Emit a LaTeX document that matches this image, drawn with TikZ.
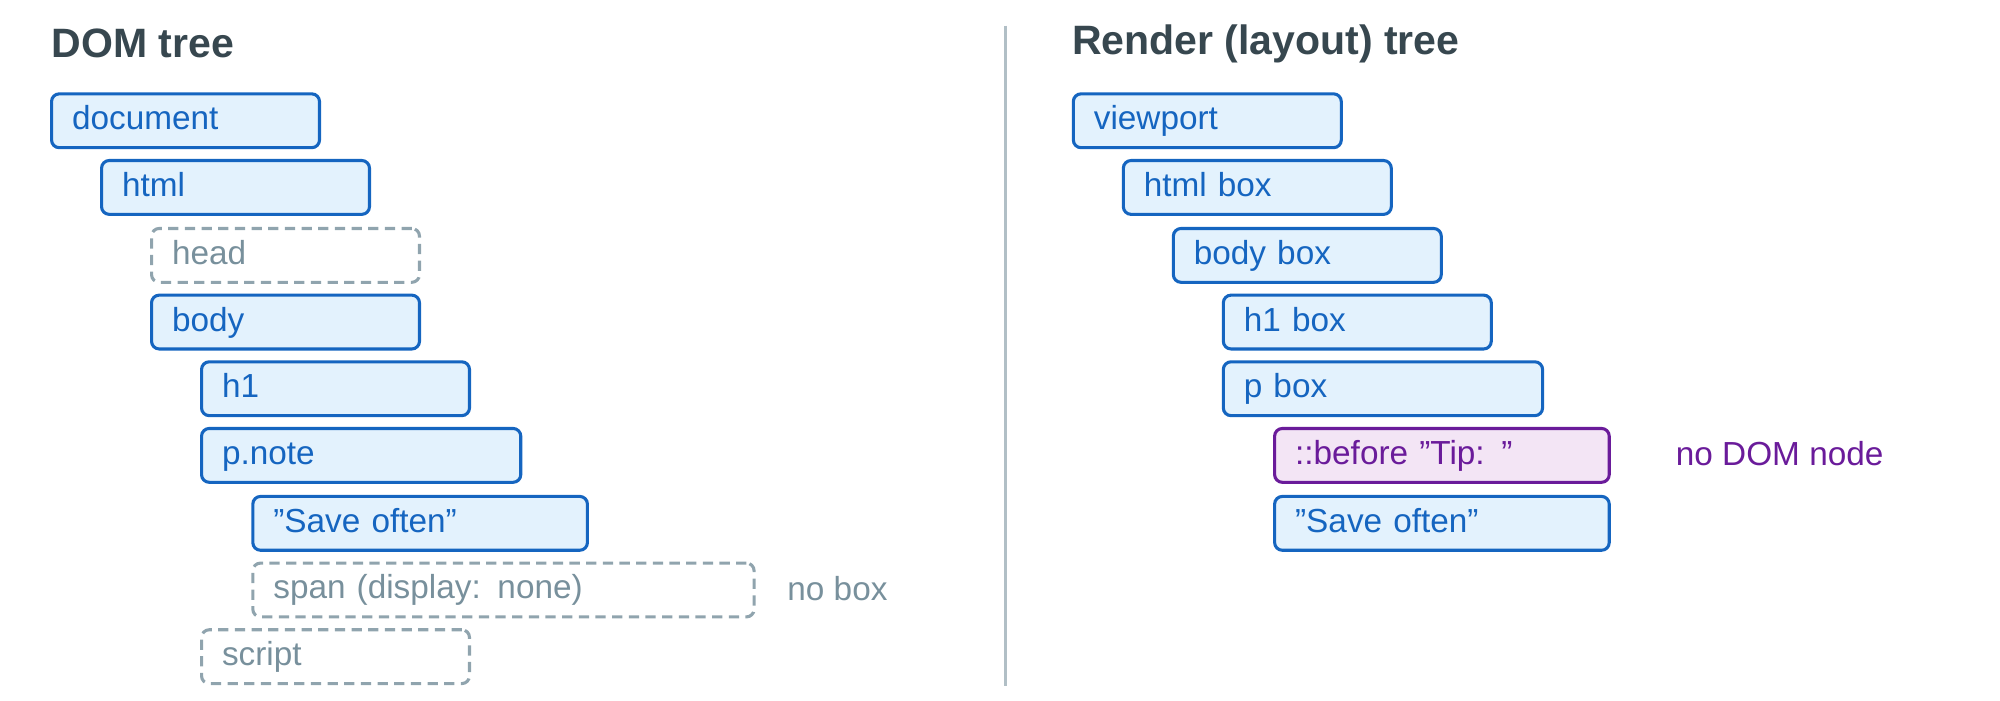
\documentclass[tikz,border=0pt]{standalone}
\usepackage{fontspec}
\setmainfont{Liberation Sans}
\definecolor{bst}{HTML}{1565C0}
\definecolor{bfi}{HTML}{E3F2FD}
\definecolor{gst}{HTML}{90A4AE}
\definecolor{gtx}{HTML}{78909C}
\definecolor{pst}{HTML}{6A1B9A}
\definecolor{pfi}{HTML}{F3E5F5}
\definecolor{ttl}{HTML}{37474F}
\begin{document}
\begin{tikzpicture}[x=1pt,y=-1pt,
  box/.style={draw, rounded corners=6pt, line width=2.4pt, anchor=north west,
    minimum height=42pt, inner xsep=16pt, inner ysep=0pt, align=left,
    font=\fontsize{26}{30}\selectfont, text height=19pt, text depth=5pt},
  dom/.style={box, bst, fill=bfi, text=bst},
  gone/.style={box, gst, dashed, dash pattern=on 8pt off 5pt, text=gtx},
  pseudo/.style={box, pst, fill=pfi, text=pst},
  ttlst/.style={anchor=west, font=\fontsize{32}{36}\selectfont\bfseries, text=ttl, inner sep=0pt},
  note/.style={anchor=west, font=\fontsize{26}{30}\selectfont, inner sep=0pt}]
\useasboundingbox (0,0) rectangle (1560,546);
\draw[gst!70, line width=2.4pt] (784,20) -- (784,535);
\node[ttlst] (t1) at (40,34) {DOM tree};
\node[ttlst] (t2) at (836,34) {Render (layout) tree};
\newcommand\bx[6]{\node[#1, text width=#5-32pt, minimum width=#5] (#2) at (#3,#4) {#6};}
\bx{dom}{document}{39}{72}{209pt}{document}
\bx{dom}{html}{78}{124}{209pt}{html}
\bx{gone}{head}{117}{177}{209pt}{head}
\bx{dom}{body}{117}{229}{209pt}{body}
\bx{dom}{h1}{156}{281}{209pt}{h1}
\bx{dom}{pnote}{156}{333}{249pt}{p.note}
\bx{dom}{save}{196}{386}{261pt}{"Save often"}
\bx{gone}{span}{196}{438}{391pt}{span (display: none)}
\bx{gone}{script}{156}{490}{209pt}{script}
\node[note, text=gtx] (nobox) at (614,459) {no box};
\bx{dom}{viewport}{836}{72}{209pt}{viewport}
\bx{dom}{htmlbox}{875}{124}{209pt}{html box}
\bx{dom}{bodybox}{914}{177}{209pt}{body box}
\bx{dom}{hbox}{953}{229}{209pt}{h1 box}
\bx{dom}{pbox}{953}{281}{249pt}{p box}
\bx{pseudo}{before}{993}{333}{261pt}{::before "Tip: "}
\bx{dom}{save2}{993}{386}{261pt}{"Save often"}
\node[note, text=pst] (nodom) at (1307,354) {no DOM node};
\end{tikzpicture}
\end{document}
